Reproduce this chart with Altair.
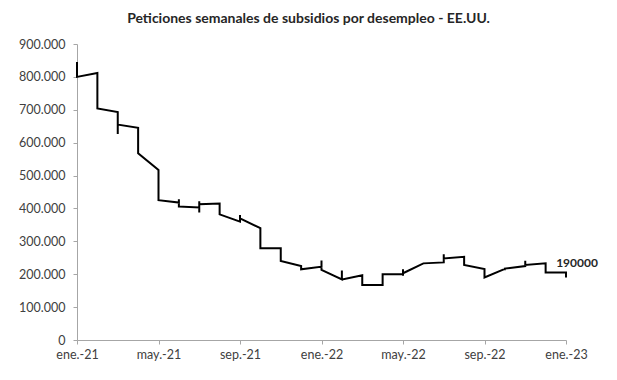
import altair as alt
import pandas as pd

# Weekly claims, grouped by month (Excel date axis with monthly base unit)
months = list(range(25))  # 0 = ene.-21 ... 24 = ene.-23
weekly_by_month = [
    [845000, 800000],                  # ene-21
    [812000, 704000],                  # feb-21
    [693000, 626000, 655000],          # mar-21
    [645000, 568000],                  # abr-21
    [517000, 425000],                  # may-21
    [418000, 428000, 403000, 406000],  # jun-21
    [403000, 422000, 388000, 413000],  # jul-21
    [415000, 382000],                  # ago-21
    [360000, 380000, 370000],          # sep-21
    [340000, 279000],                  # oct-21
    [279000, 240000],                  # nov-21
    [225000, 215000],                  # dic-21
    [223000, 242000, 213000],          # ene-22
    [184000, 211000, 182000, 184000],  # feb-22
    [197000, 167000],                  # mar-22
    [167000, 203000, 200000],          # abr-22
    [200000, 215000, 195000, 203000],  # may-22
    [233000],                          # jun-22
    [236000, 261000, 248000],          # jul-22
    [253000, 228000],                  # ago-22
    [216000, 190000],                  # sep-22
    [216000, 220000, 212000, 217000],  # oct-22
    [225000, 241000, 228000],          # nov-22
    [233000, 205000],                  # dic-22
    [205000, 190000],                  # ene-23
]
tick_labels = ["ene.-21", "may.-21", "sep.-21", "ene.-22", "may.-22", "sep.-22", "ene.-23"]
y_ticks = [0, 100000, 200000, 300000, 400000, 500000, 600000, 700000, 800000, 900000]
title_text = "Peticiones semanales de subsidios por desempleo - EE.UU."
last_label = "190000"

rows = []
k = 0
for m, vals in zip(months, weekly_by_month):
    for v in vals:
        rows.append({"m": m, "v": v, "i": k})
        k += 1
df = pd.DataFrame(rows)
last_df = df.tail(1).assign(lab=last_label)

label_array = "[" + ",".join("'" + t + "'" for t in tick_labels) + "]"

x_scale = alt.Scale(domain=[0, 24], nice=False, zero=False)
y_scale = alt.Scale(domain=[0, 900000], nice=False)

x_axis = alt.Axis(
    values=[0, 4, 8, 12, 16, 20, 24], labelExpr=label_array + "[round(datum.value/4)]",
    title=None, grid=False, domainColor="#a6a6a6", tickColor="#a6a6a6", tickSize=4,
    labelFont="Lato", labelFontSize=12.5, labelColor="#404040", labelPadding=4,
    labelFlush=False, labelOverlap=False, labelBound=False)
y_axis = alt.Axis(
    values=y_ticks,
    labelExpr="replace(format(datum.value, ','), ',', '.')",
    title=None, grid=False, domainColor="#a6a6a6", tickColor="#a6a6a6", tickSize=4,
    labelFont="Lato", labelFontSize=12.5, labelColor="#404040", labelPadding=8,
    labelFlush=False, labelOverlap=False, labelBound=False)

line = alt.Chart(df).mark_line(color="black", strokeWidth=2, strokeJoin="miter", strokeCap="butt").encode(
    x=alt.X("m:Q", scale=x_scale, axis=x_axis),
    y=alt.Y("v:Q", scale=y_scale, axis=y_axis),
    order="i:Q",
)

txt = alt.Chart(last_df).mark_text(font="Lato", fontWeight="bold", fontSize=12, color="#262626",
                                   dx=11, dy=-15).encode(
    x=alt.X("m:Q", scale=x_scale, axis=x_axis), y=alt.Y("v:Q", scale=y_scale, axis=y_axis), text="lab:N")

chart = (line + txt).properties(
    width=489, height=296,
    autosize=alt.AutoSizeParams(type="none"),
    padding={"left": 69, "top": 36, "right": 35, "bottom": 24},
    title=alt.TitleParams(title_text, font="Lato", fontSize=14, fontWeight="bold",
                          color="#262626", anchor="middle", dx=-13, offset=12),
).configure_view(stroke=None).configure_axis(labelOverlap=False)

chart.save("out.html", embed_options={"renderer": "svg", "actions": False})
